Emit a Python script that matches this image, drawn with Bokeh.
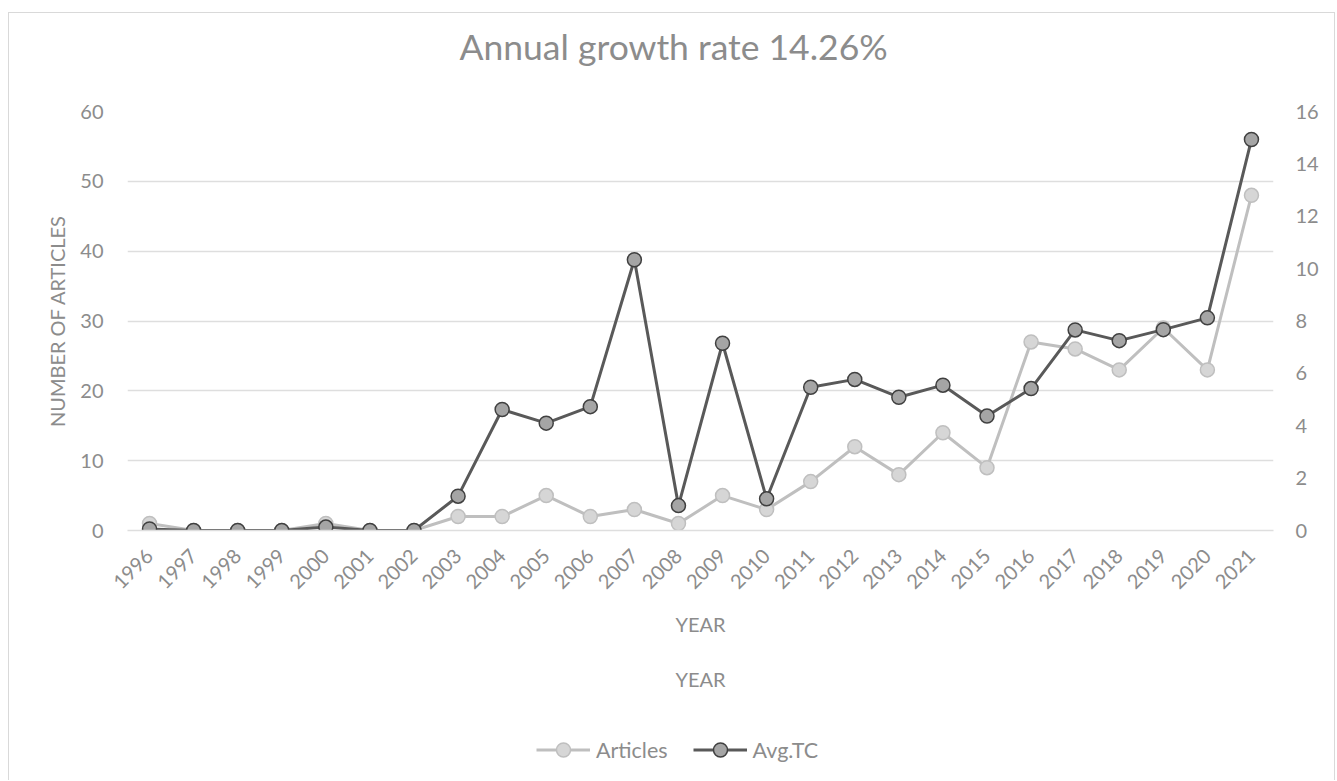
import math
from bokeh.plotting import figure
from bokeh.layouts import column
from bokeh.models import (Range1d, FactorRange, LinearAxis, FixedTicker, Legend,
                          LegendItem, Title, ColumnDataSource)
from bokeh.embed import file_html
from bokeh.resources import INLINE

# ---------------- data ----------------
years = [str(y) for y in range(1996, 2022)]
articles = [1, 0, 0, 0, 1, 0, 0, 2, 2, 5, 2, 3, 1, 5, 3, 7, 12, 8, 14, 9, 27, 26, 23, 29, 23, 48]
avg_tc = [0.06, 0, 0, 0, 0.13, 0, 0, 1.31, 4.62, 4.10, 4.73, 10.34, 0.95, 7.15, 1.21,
          5.47, 5.77, 5.09, 5.55, 4.37, 5.42, 7.66, 7.25, 7.67, 8.12, 14.93]
left_ticks = [0, 10, 20, 30, 40, 50, 60]
right_ticks = [0, 2, 4, 6, 8, 10, 12, 14, 16]
title_text = "Annual growth rate 14.26%"
y_label = "NUMBER OF ARTICLES"
x_label = "YEAR"
series_names = ["Articles", "Avg.TC"]

FONT = "Lato"
GRAY = "#8c8c8c"
GRID = "#dedede"
BORDER = "1px solid #d9d9d9"

ART_LINE, ART_FILL, ART_EDGE = "#bfbfbf", "#d6d6d6", "#bfbfbf"
TC_LINE, TC_FILL, TC_EDGE = "#595959", "#a5a5a5", "#404040"

src = ColumnDataSource(dict(year=years, articles=articles, tc=avg_tc))

p = figure(width=1327, height=702,
           x_range=FactorRange(*years, range_padding=0),
           y_range=Range1d(0, 60),
           output_backend="svg", toolbar_location=None,
           min_border_left=118, min_border_right=63,
           min_border_top=98, min_border_bottom=185,
           margin=(12, 0, 0, 8),
           styles={"border-left": BORDER, "border-top": BORDER, "border-right": BORDER})
p.extra_y_ranges = {"tc": Range1d(0, 16)}
p.outline_line_color = None
p.background_fill_color = "white"
p.border_fill_color = "white"

# spacer between title and plot area (blank text)
p.add_layout(Title(text=" ", text_font_size="1px", standoff=41), "above")

# title
p.title.text = title_text
p.title.align = "left"
p.title.text_font = FONT
p.title.text_font_size = "35.5px"
p.title.text_font_style = "normal"
p.title.text_color = GRAY
p.title.standoff = 0
p.title.offset = 332

# grid
p.xgrid.grid_line_color = None
p.ygrid.grid_line_color = GRID
p.ygrid.grid_line_width = 1.5
p.ygrid.ticker = FixedTicker(ticks=left_ticks)

# left axis
ya = p.yaxis[0]
ya.ticker = FixedTicker(ticks=left_ticks)
ya.axis_line_color = None
ya.major_tick_line_color = None
ya.minor_tick_line_color = None
ya.major_label_text_font = FONT
ya.major_label_text_font_size = "20px"
ya.major_label_text_color = GRAY
ya.major_label_standoff = 18
ya.axis_label = y_label
ya.axis_label_text_font = FONT
ya.axis_label_text_font_size = "20px"
ya.axis_label_text_font_style = "normal"
ya.axis_label_text_color = GRAY
ya.axis_label_standoff = 8

# right axis
ra = LinearAxis(y_range_name="tc", ticker=FixedTicker(ticks=right_ticks))
ra.axis_line_color = None
ra.major_tick_line_color = None
ra.minor_tick_line_color = None
ra.major_label_text_font = FONT
ra.major_label_text_font_size = "20px"
ra.major_label_text_color = GRAY
ra.major_label_standoff = 16
p.add_layout(ra, "right")

# x axis
xa = p.xaxis[0]
xa.axis_line_color = GRID
xa.axis_line_width = 1.5
xa.major_tick_line_color = None
xa.minor_tick_line_color = None
xa.major_label_orientation = math.pi / 4
xa.major_label_text_font = FONT
xa.major_label_text_font_size = "20px"
xa.major_label_text_color = GRAY
xa.major_label_standoff = 16
xa.axis_label = x_label
xa.axis_label_text_font = FONT
xa.axis_label_text_font_size = "20px"
xa.axis_label_text_font_style = "normal"
xa.axis_label_text_color = GRAY
xa.axis_label_standoff = 14

# second "YEAR"
t2 = Title(text=x_label, align="center", text_font=FONT, text_font_size="20px",
           text_font_style="normal", text_color=GRAY, standoff=50)
p.add_layout(t2, "below")

# series
p.line("year", "articles", source=src, line_color=ART_LINE, line_width=3)
p.scatter("year", "articles", source=src, size=14, marker="circle",
          fill_color=ART_FILL, line_color=ART_EDGE, line_width=1.5)
p.line("year", "tc", source=src, y_range_name="tc", line_color=TC_LINE, line_width=3)
p.scatter("year", "tc", source=src, y_range_name="tc", size=14, marker="circle",
          fill_color=TC_FILL, line_color=TC_EDGE, line_width=1.5)

# legend strip below the chart (its renderers are hidden; only legend samples show)
q = figure(width=1327, height=66, x_range=FactorRange(*years, range_padding=0),
           y_range=Range1d(0, 60),
           output_backend="svg", toolbar_location=None,
           min_border=0, margin=(0, 0, 0, 8),
           styles={"border-left": BORDER, "border-right": BORDER})
q.axis.visible = False
q.grid.visible = False
q.outline_line_color = None
q.border_fill_color = "white"
ql1 = q.line("year", "articles", source=src, line_color=ART_LINE, line_width=3, visible=False)
qs1 = q.scatter("year", "articles", source=src, size=14, marker="circle",
                fill_color=ART_FILL, line_color=ART_EDGE, line_width=1.5, visible=False)
ql2 = q.line("year", "tc", source=src, line_color=TC_LINE, line_width=3, visible=False)
qs2 = q.scatter("year", "tc", source=src, size=14, marker="circle",
                fill_color=TC_FILL, line_color=TC_EDGE, line_width=1.5, visible=False)

legend = Legend(items=[LegendItem(label=series_names[0], renderers=[ql1, qs1], index=0),
                       LegendItem(label=series_names[1], renderers=[ql2, qs2], index=0)],
                orientation="horizontal", location=(409, 13),
                border_line_color=None, background_fill_alpha=0,
                inactive_fill_alpha=0,
                label_text_font=FONT, label_text_font_size="21.5px",
                label_text_color=GRAY, glyph_width=54, glyph_height=35,
                label_standoff=6, spacing=25, padding=0, margin=0)
q.add_layout(legend, "center")

layout = column(p, q, spacing=0)
open("out.html", "w").write(file_html(layout, INLINE))
